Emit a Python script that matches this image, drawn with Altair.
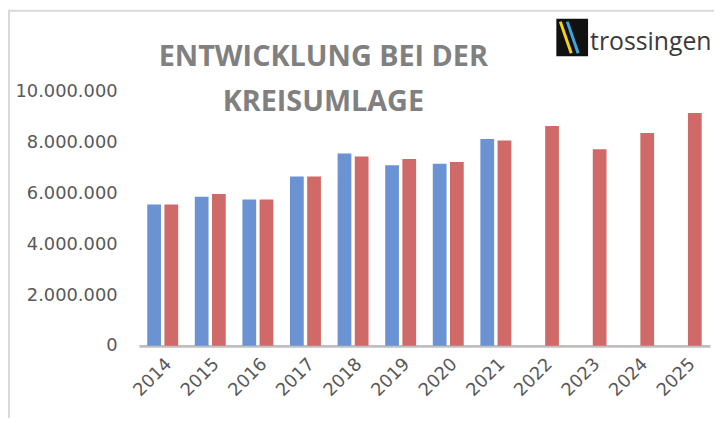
import altair as alt
import pandas as pd

years = ["2014", "2015", "2016", "2017", "2018", "2019", "2020", "2021",
         "2022", "2023", "2024", "2025"]
ist = [5570000, 5870000, 5770000, 6670000, 7580000, 7120000, 7170000, 8150000,
       None, None, None, None]
plan = [5570000, 5980000, 5770000, 6670000, 7460000, 7360000, 7240000, 8090000,
        8660000, 7750000, 8390000, 9170000]
series = ["Ist", "Plan"]
colors = ["#6b93d3", "#d06a68"]
y_ticks = [0, 2000000, 4000000, 6000000, 8000000, 10000000]
title_lines = ["ENTWICKLUNG BEI DER", "KREISUMLAGE"]
logo_text = "trossingen"

rows = []
for yr, a, b in zip(years, ist, plan):
    if a is not None:
        rows.append({"Jahr": yr, "Reihe": series[0], "Wert": a})
    if b is not None:
        rows.append({"Jahr": yr, "Reihe": series[1], "Wert": b})
df = pd.DataFrame(rows)

bars = alt.Chart(df).mark_bar().encode(
    x=alt.X("Jahr:N", sort=years,
            scale=alt.Scale(domain=years, paddingInner=0.35, paddingOuter=0.175),
            axis=alt.Axis(title=None, labelAngle=-45, ticks=False, domain=True,
                          domainColor="#bfbfbf", domainWidth=3, labelPadding=9)),
    xOffset=alt.XOffset("Reihe:N",
                        scale=alt.Scale(domain=series, paddingInner=0.2, paddingOuter=0)),
    y=alt.Y("Wert:Q", scale=alt.Scale(domain=[0, 10000000], nice=False),
            axis=alt.Axis(title=None, values=y_ticks, format=",d", grid=False,
                          ticks=False, domain=False, labelPadding=22)),
    color=alt.Color("Reihe:N", scale=alt.Scale(domain=series, range=colors), legend=None),
)

one = pd.DataFrame({"k": [0]})

frame_top = alt.Chart(one).mark_rect(color="#d9d9d9").encode(
    x=alt.value(-132), x2=alt.value(588), y=alt.value(-83), y2=alt.value(-81))
frame_left = alt.Chart(one).mark_rect(color="#d9d9d9").encode(
    x=alt.value(-132), x2=alt.value(-130), y=alt.value(-83), y2=alt.value(330))

logo_box = alt.Chart(one).mark_rect(color="#111111").encode(
    x=alt.value(421), x2=alt.value(453), y=alt.value(-74), y2=alt.value(-36))
swoosh_y = alt.Chart(one).mark_rule(color="#f2d21b", strokeWidth=3).encode(
    x=alt.value(425), x2=alt.value(436), y=alt.value(-71), y2=alt.value(-39))
swoosh_b = alt.Chart(one).mark_rule(color="#3aa7e0", strokeWidth=3).encode(
    x=alt.value(432), x2=alt.value(443), y=alt.value(-71), y2=alt.value(-39))
logo_label = alt.Chart(one).mark_text(
    text=logo_text, font="Open Sans", fontSize=25, color="#3a3a3a",
    align="left", baseline="alphabetic").encode(x=alt.value(455), y=alt.value(-42))

chart = alt.layer(
    frame_top, frame_left, bars, logo_box, swoosh_y, swoosh_b, logo_label
).properties(
    width=576, height=256,
    autosize=alt.AutoSizeParams(type="none"),
    padding={"left": 132, "top": 83, "right": 4, "bottom": 71},
    title=alt.TitleParams(text=title_lines, fontSize=29, font="Open Sans",
                          fontWeight="bold", color="#808080", anchor="middle",
                          frame="group", dx=-102, dy=88, lineHeight=45, offset=-20),
).configure(
    locale={"number": {"decimal": ",", "thousands": ".", "grouping": [3],
                       "currency": ["", " €"]}}
).configure_view(stroke=None).configure_axis(
    labelFont="DejaVu Sans", labelFontSize=18, labelColor="#595959"
)

chart.save("out.html", embed_options={"renderer": "svg", "actions": False})
